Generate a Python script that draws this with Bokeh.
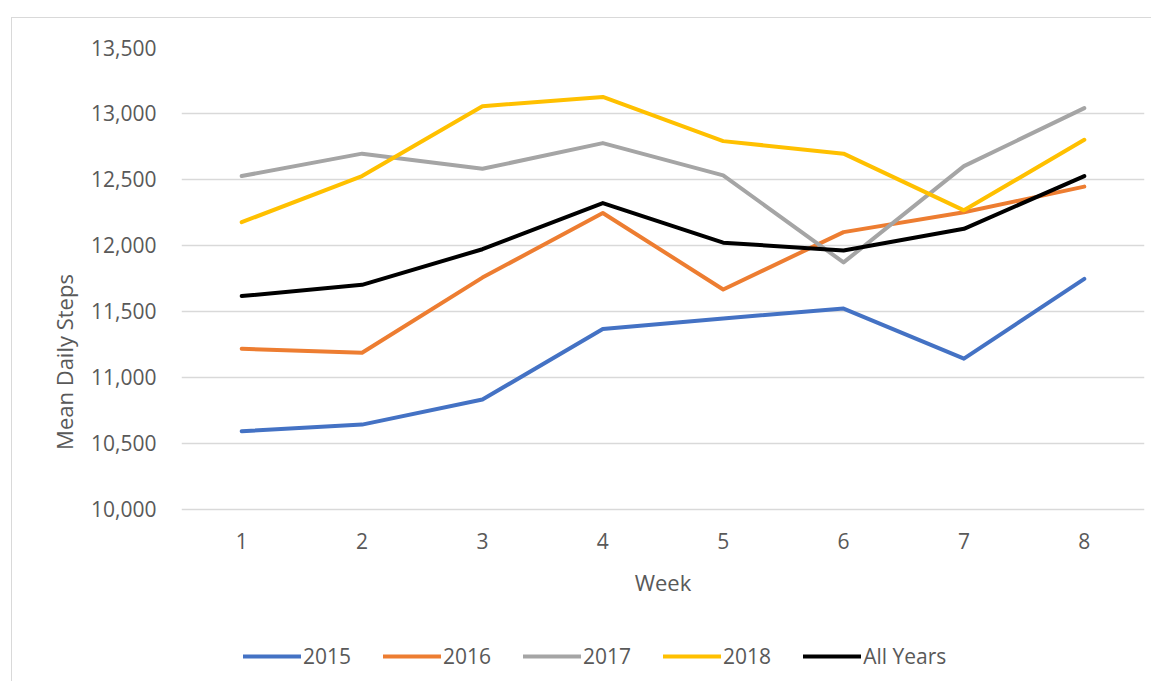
from bokeh.plotting import figure
from bokeh.models import Range1d, FixedTicker, NumeralTickFormatter, Legend, LegendItem
from bokeh.embed import file_html
from bokeh.resources import INLINE

weeks = [1, 2, 3, 4, 5, 6, 7, 8]
series_names = ["2015", "2016", "2017", "2018", "All Years"]
steps_2015 = [10590, 10640, 10830, 11365, 11445, 11520, 11140, 11745]
steps_2016 = [11215, 11185, 11755, 12245, 11665, 12100, 12250, 12445]
steps_2017 = [12525, 12695, 12580, 12775, 12530, 11870, 12600, 13040]
steps_2018 = [12175, 12525, 13055, 13125, 12790, 12695, 12265, 12800]
steps_all = [11615, 11700, 11970, 12320, 12020, 11960, 12125, 12525]
colors = ["#4472C4", "#ED7D31", "#A5A5A5", "#FFC000", "#000000"]
y_ticks = [10000, 10500, 11000, 11500, 12000, 12500, 13000, 13500]

FONT = "Open Sans"
TXT = "#595959"

# layout geometry (pixels)
W, H = 1140, 664
B_LEFT, B_TOP, B_RIGHT, B_BOTTOM = 169, 29, 8, 6
AXIS_SPAN_PX = 461.5            # pixels from 13,500 gridline down to 10,000
frame_h = H - B_TOP - B_BOTTOM
y_min, y_max = y_ticks[0], y_ticks[-1]
y_start = y_max - frame_h * (y_max - y_min) / AXIS_SPAN_PX

p = figure(width=W, height=H, output_backend="svg", toolbar_location=None,
           x_range=Range1d(0.5, 8.5), y_range=Range1d(y_start, y_max),
           min_border_left=B_LEFT, min_border_top=B_TOP, min_border_right=B_RIGHT,
           min_border_bottom=B_BOTTOM)
p.styles = {"margin-left": "11px", "margin-top": "17px",
            "border-left": "1px solid #d9d9d9", "border-top": "1px solid #d9d9d9"}
p.outline_line_color = None
p.background_fill_color = "white"
p.border_fill_color = "white"

p.xaxis.ticker = FixedTicker(ticks=weeks)
p.xaxis.fixed_location = y_min
p.yaxis.ticker = FixedTicker(ticks=y_ticks)
p.yaxis.bounds = (y_min, y_max)
p.yaxis.formatter = NumeralTickFormatter(format="0,0")
for ax in (p.xaxis, p.yaxis):
    ax.axis_line_color = None
    ax.major_tick_line_color = None
    ax.minor_tick_line_color = None
    ax.major_label_text_font = FONT
    ax.major_label_text_font_size = "21px"
    ax.major_label_text_color = TXT
    ax.axis_label_text_font = FONT
    ax.axis_label_text_font_size = "22px"
    ax.axis_label_text_color = TXT
    ax.axis_label_text_font_style = "normal"
p.xaxis.major_label_standoff = 18
p.yaxis.major_label_standoff = 19
p.xaxis.axis_label = "Week"
p.yaxis.axis_label = "Mean Daily Steps"
p.xaxis.axis_label_standoff = 14
p.yaxis.axis_label_standoff = 9

p.xgrid.grid_line_color = None
p.ygrid.grid_line_color = "#d9d9d9"
p.ygrid.grid_line_width = 1.5

items = []
for name, vals, c in zip(series_names, [steps_2015, steps_2016, steps_2017, steps_2018, steps_all], colors):
    r = p.line(weeks, vals, line_color=c, line_width=4, line_join="round", line_cap="round")
    items.append(LegendItem(label=name, renderers=[r]))

legend = Legend(items=items, orientation="horizontal", location=(62, 6),
                glyph_width=58, glyph_height=20, label_standoff=2, spacing=32,
                padding=0, margin=0, border_line_color=None, background_fill_alpha=0,
                label_text_font=FONT, label_text_font_size="21px", label_text_color=TXT)
p.add_layout(legend, "center")

open("out.html", "w").write(file_html(p, INLINE))
